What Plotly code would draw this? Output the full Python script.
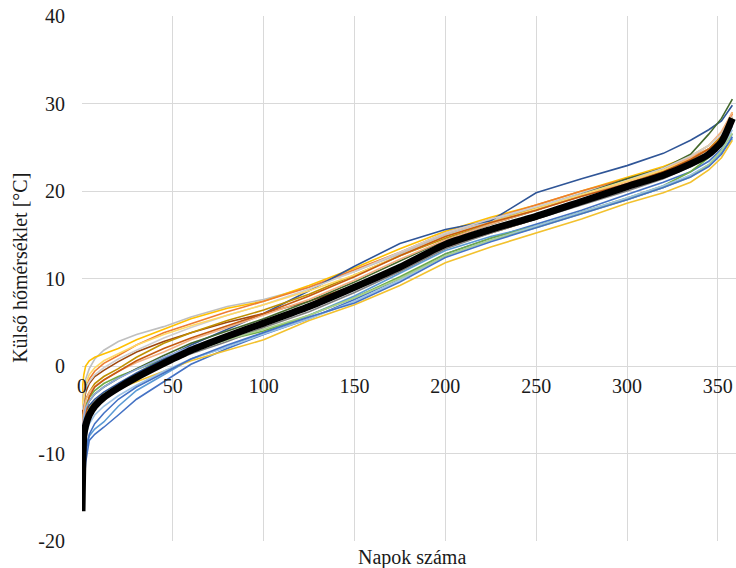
import plotly.graph_objects as go

days = [0, 1, 2, 4, 7, 12, 20, 30, 45, 60, 80, 100, 125, 150, 175, 200, 225, 250, 275, 300, 320, 335, 345, 352, 358]

# Average (thick black) duration curve
avg = [-16.6, -8.0, -6.8, -5.6, -4.6, -3.6, -2.5, -1.3, 0.3, 1.8, 3.4, 4.9, 6.8, 9.0, 11.3, 13.9, 15.6, 17.1, 18.8, 20.5, 21.8, 23.1, 24.2, 25.6, 28.3]

# Individual years (coloured lines)
s01 = [-15.5, -14.0, -11.0, -8.5, -7.8, -7.0, -5.6, -3.8, -1.8, 0.2, 2.0, 3.6, 5.4, 7.6, 10.0, 12.8, 14.6, 16.2, 17.8, 19.6, 21.0, 22.2, 23.4, 24.8, 26.5]
s02 = [-12.5, -11.0, -9.2, -8.0, -7.2, -6.4, -4.6, -2.8, -1.0, 0.8, 2.2, 3.8, 5.8, 8.0, 10.6, 13.2, 14.8, 16.0, 17.6, 19.0, 20.4, 21.8, 23.0, 24.4, 26.0]
s03 = [-4.0, -2.5, -1.5, -0.3, 0.8, 1.8, 2.8, 3.6, 4.5, 5.6, 6.8, 7.6, 9.0, 10.8, 12.8, 15.0, 16.6, 18.2, 19.8, 21.4, 22.6, 23.8, 24.8, 26.0, 28.5]
s04 = [-3.0, -1.0, 0.0, 0.6, 1.0, 1.4, 2.0, 3.0, 4.2, 5.4, 6.6, 7.4, 9.2, 11.2, 13.4, 15.4, 17.0, 18.4, 20.0, 21.6, 22.8, 24.0, 25.2, 26.6, 29.0]
s05 = [-8.0, -6.5, -5.5, -4.6, -4.0, -3.4, -2.6, -1.8, -0.6, 0.6, 1.8, 3.0, 5.2, 7.0, 9.2, 11.8, 13.6, 15.2, 16.8, 18.6, 19.8, 21.0, 22.4, 23.8, 25.8]
s06 = [-6.0, -3.5, -2.5, -1.5, -0.6, 0.3, 1.2, 2.4, 3.8, 4.8, 6.2, 7.4, 9.0, 11.0, 13.0, 15.2, 16.8, 18.4, 20.0, 21.4, 22.6, 23.8, 24.8, 26.3, 28.8]
s07 = [-7.5, -5.5, -4.5, -3.6, -2.8, -2.0, -1.2, -0.4, 0.8, 2.0, 3.0, 4.0, 5.8, 7.8, 10.2, 12.8, 14.6, 16.0, 17.6, 19.2, 20.6, 22.2, 23.8, 25.3, 27.5]
s08 = [-9.0, -6.5, -5.2, -4.5, -3.8, -3.0, -2.0, -0.8, 0.8, 2.4, 4.2, 6.0, 8.6, 11.4, 14.0, 15.6, 16.6, 19.8, 21.4, 22.9, 24.3, 25.8, 27.0, 28.0, 29.8]
s09 = [-5.5, -4.0, -3.0, -2.0, -1.2, -0.5, 0.5, 1.6, 2.8, 3.8, 5.0, 6.0, 7.4, 9.2, 11.4, 13.6, 15.2, 16.8, 18.6, 20.2, 21.6, 23.0, 24.2, 25.6, 28.0]
s10 = [-10.0, -7.0, -6.0, -5.0, -4.0, -3.2, -2.2, -1.2, 0.2, 1.4, 2.8, 4.4, 6.2, 8.4, 10.8, 13.4, 15.2, 16.8, 18.4, 20.0, 21.4, 22.8, 24.0, 25.4, 27.8]
s11 = [-6.5, -4.8, -3.8, -3.0, -2.0, -1.2, -0.3, 1.0, 2.6, 3.8, 5.2, 6.4, 8.2, 10.4, 12.6, 14.6, 16.4, 18.0, 19.4, 21.0, 22.3, 23.6, 24.8, 26.2, 28.4]
s12 = [-8.5, -6.2, -5.0, -4.0, -3.2, -2.4, -1.4, -0.3, 1.2, 2.6, 4.0, 5.4, 7.4, 9.6, 12.0, 14.4, 16.2, 17.8, 19.6, 21.4, 22.6, 24.2, 26.5, 28.3, 30.5]
s13 = [-11.0, -9.5, -8.0, -6.6, -5.6, -4.6, -3.4, -2.2, -0.6, 0.8, 2.2, 3.6, 5.4, 7.4, 9.8, 12.6, 14.4, 16.0, 17.6, 19.2, 20.6, 21.8, 23.0, 24.6, 27.0]
s14 = [-7.0, -5.0, -4.0, -3.0, -2.3, -1.6, -0.6, 0.4, 1.6, 3.0, 4.4, 5.8, 7.6, 9.8, 12.2, 14.4, 16.2, 17.8, 19.4, 21.0, 22.4, 23.8, 25.2, 26.8, 29.0]
s15 = [-5.0, -3.5, -2.5, -1.8, -1.0, -0.2, 0.8, 1.8, 3.2, 4.4, 5.8, 7.0, 8.8, 10.8, 13.0, 15.2, 16.8, 18.2, 19.6, 21.2, 22.6, 24.0, 25.2, 26.5, 28.5]
s16 = [-9.5, -7.0, -6.0, -5.0, -4.2, -3.2, -2.2, -1.0, 0.4, 1.6, 3.0, 4.2, 5.8, 7.8, 10.0, 12.6, 14.4, 15.8, 17.4, 19.0, 20.4, 21.6, 23.0, 24.6, 26.6]
s17 = [-14.0, -12.5, -10.0, -7.8, -6.6, -5.4, -3.8, -2.4, -0.8, 0.8, 2.4, 3.8, 5.6, 7.2, 9.6, 12.4, 14.2, 15.8, 17.4, 19.0, 20.4, 21.6, 22.8, 24.2, 26.2]
s18 = [-4.5, -3.0, -2.0, -1.0, -0.2, 0.6, 1.4, 2.4, 3.6, 4.6, 5.8, 7.0, 8.6, 10.4, 12.6, 14.8, 16.4, 18.0, 19.6, 21.2, 22.4, 23.6, 24.8, 26.0, 28.0]
s19 = [-11.5, -8.0, -5.5, -3.5, -2.4, -1.6, -0.6, 0.6, 2.0, 3.2, 4.6, 6.0, 8.0, 10.2, 12.6, 14.8, 16.4, 17.8, 19.4, 20.8, 22.2, 23.6, 24.8, 26.0, 28.2]
s20 = [-7.8, -5.8, -4.8, -4.0, -3.2, -2.4, -1.4, -0.4, 1.0, 2.2, 3.6, 5.0, 6.8, 9.0, 11.4, 13.8, 15.6, 17.0, 18.6, 20.2, 21.6, 22.8, 24.0, 25.2, 27.4]

series = [s01, s02, s03, s04, s05, s06, s07, s08, s09, s10,
          s11, s12, s13, s14, s15, s16, s17, s18, s19, s20]
colors = ["#4472C4", "#5B9BD5", "#BFBFBF", "#FFC000", "#F2C12E", "#ED7D31", "#70AD47", "#2F5597",
          "#9E480E", "#7F7F7F", "#BF9000", "#43682B", "#9DC3E6", "#F4B183", "#D0CECE", "#A9D18E",
          "#4472C4", "#FFD966", "#C55A11", "#8FAADC"]

x_ticks = [0, 50, 100, 150, 200, 250, 300, 350]
x_labels = ["0", "50", "100", "150", "200", "250", "300", "350"]
y_ticks = [-20, -10, 0, 10, 20, 30, 40]
y_labels = ["-20", "-10", "0", "10", "20", "30", "40"]

FONT = "Liberation Serif, Times New Roman, serif"
TXT = "#1a1a1a"
FS = 20

fig = go.Figure()
for s, c in zip(series, colors):
    fig.add_trace(go.Scatter(x=days, y=s, mode="lines",
                             line=dict(color=c, width=1.6), showlegend=False, hoverinfo="skip"))
fig.add_trace(go.Scatter(x=days, y=avg, mode="lines",
                         line=dict(color="black", width=7, shape="spline", smoothing=0.6),
                         showlegend=False))

fig.update_layout(
    width=736, height=568,
    margin=dict(l=82, r=0, t=16, b=27),
    paper_bgcolor="white", plot_bgcolor="white",
    font=dict(family=FONT, size=FS, color=TXT),
    xaxis=dict(range=[0, 360], tickvals=x_ticks, ticktext=x_labels, showgrid=True,
               gridcolor="#d9d9d9", gridwidth=1,
               zeroline=False, showline=False, ticks="outside", ticklen=2, tickcolor="rgba(0,0,0,0)",
               anchor="free", position=1/3, tickfont=dict(family=FONT, size=FS, color=TXT)),
    yaxis=dict(range=[-20, 40], tickvals=y_ticks, ticktext=y_labels, showgrid=True,
               gridcolor="#d9d9d9", gridwidth=1,
               zeroline=False, showline=False, ticks="outside", ticklen=12, tickcolor="rgba(0,0,0,0)",
               tickfont=dict(family=FONT, size=FS, color=TXT)),
    annotations=[
        dict(text="Napok száma", xref="paper", yref="paper", x=0.505, y=-0.032,
             showarrow=False, font=dict(family=FONT, size=FS, color=TXT), xanchor="center", yanchor="middle"),
        dict(text="Külső hőmérséklet [°C]", xref="paper", yref="paper", x=-0.095, y=0.52,
             showarrow=False, textangle=-90, font=dict(family=FONT, size=FS, color=TXT),
             xanchor="center", yanchor="middle"),
    ],
)

fig.write_html("out.html")
